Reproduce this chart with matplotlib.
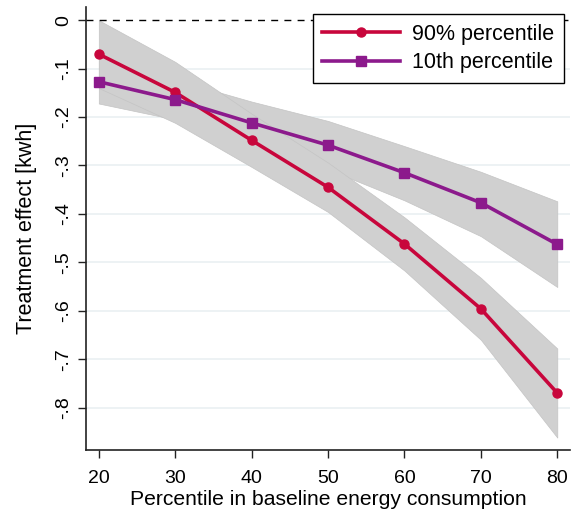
import numpy as np
import matplotlib.pyplot as plt

plt.rcParams['font.family'] = ['Liberation Sans', 'DejaVu Sans']

# Percentile of baseline consumption
pctl = [20, 30, 40, 50, 60, 70, 80]

# Treatment effects and 95% CI, 90% percentile
eff_p90 = [-0.070, -0.149, -0.248, -0.345, -0.462, -0.596, -0.770]
lo_p90 = [-0.140, -0.212, -0.303, -0.396, -0.517, -0.660, -0.862]
hi_p90 = [0.000, -0.086, -0.193, -0.294, -0.407, -0.532, -0.678]

# Treatment effects and 95% CI, 10th percentile
eff_p10 = [-0.127, -0.164, -0.212, -0.258, -0.315, -0.377, -0.463]
lo_p10 = [-0.172, -0.205, -0.256, -0.308, -0.372, -0.446, -0.551]
hi_p10 = [-0.082, -0.123, -0.168, -0.208, -0.260, -0.313, -0.374]

yticks = [0, -0.1, -0.2, -0.3, -0.4, -0.5, -0.6, -0.7, -0.8]
ytick_labels = ['0', '-.1', '-.2', '-.3', '-.4', '-.5', '-.6', '-.7', '-.8']

red = '#c8063c'
purple = '#8c1a8c'
band = '#d0d0d0'

fig = plt.figure(figsize=(5.72, 5.11), dpi=100)
ax = fig.add_axes([0.150, 0.119, 0.847, 0.867])

for g in yticks[1:]:
    ax.axhline(g, color='#e8eff1', lw=1.1, zorder=0)

ax.fill_between(pctl, lo_p10, hi_p10, color=band, edgecolor='#c4c4c4', lw=0.5, zorder=1)
ax.fill_between(pctl, lo_p90, hi_p90, color=band, edgecolor='#c4c4c4', lw=0.5, zorder=1)

ax.axhline(0, color='black', lw=1.0, dashes=(5, 4.5), zorder=2)

ax.plot(pctl, eff_p90, color=red, lw=2.6, marker='o', ms=6.5, zorder=3,
        label='90% percentile')
ax.plot(pctl, eff_p10, color=purple, lw=2.6, marker='s', ms=7.5, zorder=3,
        label='10th percentile')

ax.set_xlim(18.3, 81.7)
ax.set_ylim(-0.888, 0.027)
ax.set_xticks(pctl)
ax.set_yticks(yticks)
ax.set_yticklabels(ytick_labels, rotation=90, va='center')
ax.tick_params(axis='both', labelsize=14, length=6, width=1, color='#222222')
ax.tick_params(axis='x', pad=8.5)
ax.tick_params(axis='y', pad=4)

for side in ['top', 'right']:
    ax.spines[side].set_visible(False)
for side in ['left', 'bottom']:
    ax.spines[side].set_linewidth(1.2)
    ax.spines[side].set_color('#222222')

ax.set_xlabel('Percentile in baseline energy consumption', fontsize=15.2)
ax.xaxis.set_label_coords(0.5, -0.124)
ax.xaxis.label.set_va('baseline')
ax.set_ylabel('Treatment effect [kwh]', fontsize=15.5, labelpad=13)

leg = ax.legend(loc='upper right', bbox_to_anchor=(0.986, 0.984), fontsize=15.5,
                handlelength=3.6, handletextpad=0.55, fancybox=False, framealpha=1,
                edgecolor='black', borderpad=0.45, labelspacing=0.35, borderaxespad=0)
leg.get_frame().set_linewidth(1.0)

fig.savefig('out.png', dpi=100)
